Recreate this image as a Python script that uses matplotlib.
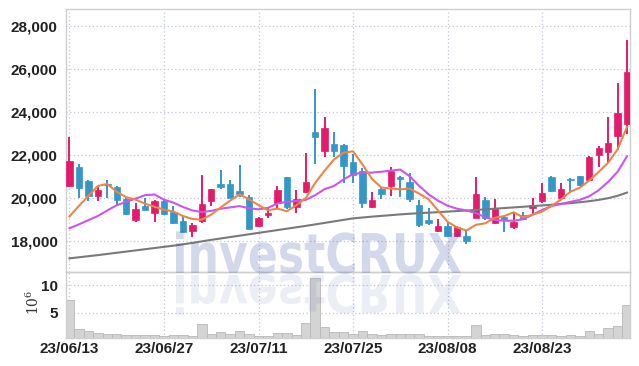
import numpy as np
import pandas as pd
import matplotlib
matplotlib.use('Agg')
import matplotlib.pyplot as plt
import matplotlib.transforms as mtransforms
from matplotlib.textpath import TextPath
from matplotlib.patches import PathPatch
from matplotlib.font_manager import FontProperties

# ---------------- data ----------------
dates = pd.bdate_range('2023-06-13', '2023-09-05')
dates = dates[dates != pd.Timestamp('2023-08-15')]  # KR holiday
label_dates = ['2023-06-13', '2023-06-27', '2023-07-11', '2023-07-25', '2023-08-08', '2023-08-23']

opens = [20535, 21405, 20780, 20080, 20650, 20500, 19916, 18950, 19600, 19290,
         19850, 19340, 18920, 18460, 18920, 19850, 20630, 20630, 20300, 20040,
         18675, 19170, 19760, 20940, 19570, 20270, 23060, 22180, 22490, 22440,
         21665, 21250, 19570, 20400, 20535, 20970, 20720, 19650, 18950, 18460,
         18675, 18210, 18210, 19060, 19880, 18800, 19110, 18640, 19190, 19500,
         19850, 20970, 19963, 20870, 21000, 20830, 21980, 22130, 22860, 23405]
highs = [22814, 21540, 20800, 20500, 20800, 20530, 20000, 19730, 19960, 19880,
         19900, 19600, 19140, 18800, 21050, 20400, 21280, 20810, 21510, 20100,
         19100, 19500, 20535, 20940, 20350, 22060, 25030, 23730, 23060, 22480,
         22020, 21360, 20270, 20500, 21400, 20990, 21130, 19880, 19500, 18990,
         18875, 18660, 18490, 20970, 20040, 19920, 19130, 19340, 19340, 19960,
         20660, 21010, 20690, 20900, 21000, 21930, 22400, 23760, 25310, 27330]
lows = [20490, 19960, 19840, 19840, 20000, 19650, 19200, 18875, 19400, 18875,
        19200, 18780, 18400, 18178, 18830, 19600, 20380, 19990, 20040, 18550,
        18650, 19033, 19500, 19480, 19270, 20200, 21540, 21900, 21900, 20660,
        20660, 19500, 19500, 19920, 20070, 20040, 19800, 18640, 18720, 18410,
        18150, 18150, 17840, 19030, 18950, 18770, 18410, 18520, 18950, 19190,
        19730, 20270, 19920, 20200, 20550, 20810, 21430, 21665, 22210, 22940]
closes = [21700, 20456, 20050, 20350, 20580, 19884, 19219, 19465, 19420, 19850,
          19220, 18800, 18410, 18720, 19700, 20400, 20470, 19990, 20160, 18550,
          19060, 19290, 20350, 19570, 19930, 20720, 22830, 23220, 22180, 21480,
          21047, 19760, 19880, 20160, 21250, 20850, 19920, 18720, 18830, 18675,
          18210, 18614, 17990, 20160, 19030, 19500, 19000, 18875, 18985, 19650,
          20195, 20320, 20380, 20810, 20580, 21884, 22300, 22535, 23916, 25823]
volume = [7.3, 2.0, 1.7, 1.33, 1.15, 1.15, 0.92, 0.92, 0.92, 0.92,
          0.74, 0.92, 0.92, 0.74, 2.96, 1.15, 1.52, 1.15, 1.7, 1.15,
          0.74, 0.74, 1.33, 1.33, 0.92, 3.14, 11.2, 2.42, 1.52, 1.52,
          1.15, 1.7, 1.15, 0.92, 1.15, 1.15, 1.15, 1.15, 0.74, 0.74,
          0.74, 0.74, 0.74, 2.78, 0.92, 1.15, 1.15, 0.92, 0.74, 0.92,
          0.92, 0.92, 0.74, 0.92, 0.74, 1.7, 1.15, 2.24, 2.6, 6.4]  # x 10^6
pre_closes = [18006, 17700, 18050, 20144]  # closes before window (for MA5)
ma20 = [18570, 18750, 18950, 19140, 19400, 19640, 19800, 19950, 20110, 20140,
        19900, 19760, 19560, 19400, 19320, 19380, 19480, 19540, 19600, 19500,
        19450, 19520, 19720, 19800, 19840, 19890, 20110, 20390, 20540, 20840,
        21090, 21150, 21160, 21200, 21250, 21300, 20990, 20540, 20150, 19850,
        19620, 19480, 19400, 19280, 19080, 18960, 18920, 18920, 18990, 19200,
        19420, 19600, 19700, 19800, 19890, 20060, 20340, 20730, 21200, 21920]
ma60 = [17170, 17220, 17270, 17320, 17375, 17430, 17485, 17540, 17595, 17650,
        17705, 17760, 17820, 17890, 17960, 18030, 18095, 18160, 18225, 18290,
        18355, 18420, 18485, 18550, 18615, 18680, 18750, 18820, 18890, 18960,
        19030, 19070, 19110, 19145, 19180, 19215, 19245, 19270, 19295, 19320,
        19345, 19370, 19395, 19420, 19450, 19480, 19510, 19540, 19570, 19600,
        19630, 19665, 19700, 19740, 19780, 19830, 19890, 19970, 20080, 20230]
price_ticks = [18000, 20000, 22000, 24000, 26000, 28000]
vol_ticks = [5, 10]

# ---------------- styling ----------------
UP = '#e31b6a'
DOWN = '#3397c9'
FONT = ['Liberation Sans Narrow', 'Liberation Sans', 'DejaVu Sans']
GRID = '#c3c7da'
SPINE = '#cfcfcf'

n = len(closes)
x = np.arange(n)
ma5 = pd.Series(pre_closes + closes).rolling(5).mean().values[len(pre_closes):]

W, H = 639, 366
fig = plt.figure(figsize=(W / 100, H / 100), dpi=100)
L, R = 66, 630
axp = fig.add_axes([L / W, 1 - 272 / H, (R - L) / W, (272 - 9) / H])
axv = fig.add_axes([L / W, 1 - 338 / H, (R - L) / W, (338 - 272) / H], sharex=axp)

for ax in (axp, axv):
    ax.set_facecolor('none')
    for s in ax.spines.values():
        s.set_color(SPINE)
        s.set_linewidth(1.0)
    ax.grid(True, color=GRID, linestyle=(0, (1, 2)), linewidth=0.9)
    ax.set_axisbelow(True)
    ax.tick_params(length=0, colors='#222222')

# candles
o = np.array(opens); c = np.array(closes); hi = np.array(highs); lo = np.array(lows)
cols = [UP if cc >= oo else DOWN for oo, cc in zip(o, c)]
axp.vlines(x, lo, hi, colors=cols, linewidth=1.4, zorder=2)
body_b = np.minimum(o, c)
body_h = np.maximum(np.abs(c - o), 40)
axp.bar(x, body_h, bottom=body_b, width=0.68, color=cols, edgecolor=cols, linewidth=0.5, zorder=3)

axp.plot(x, ma60, color='#7a7a7a', lw=1.5, zorder=4)
axp.plot(x, ma20, color='#cc55ee', lw=1.5, zorder=4)
axp.plot(x, ma5, color='#ef8447', lw=1.5, zorder=4)

axp.set_ylim(16535, 28770)
axp.set_yticks(price_ticks)
axp.set_yticklabels([f'{v:,}' for v in price_ticks], fontfamily=FONT, fontsize=11, fontweight='bold')
axp.tick_params(axis='y', pad=6)
axp.tick_params(axis='x', labelbottom=False)
axp.set_xlim(-0.37, 59.31)

# volume
axv.bar(x, volume, width=1.0, color='#d4d4d4', edgecolor='#b8b8b8', linewidth=0.6, zorder=2)
axv.set_ylim(0.45, 12.35)
axv.set_yticks(vol_ticks)
axv.set_yticklabels([str(v) for v in vol_ticks], fontfamily=FONT, fontsize=11, fontweight='bold')
axv.tick_params(axis='y', pad=6)
tick_pos = [int(np.where(dates == pd.Timestamp(d))[0][0]) for d in label_dates]
axv.set_xticks(tick_pos)
axv.set_xticklabels([pd.Timestamp(d).strftime('%y/%m/%d') for d in label_dates],
                    fontfamily=FONT, fontsize=11, fontweight='bold')
axv.tick_params(axis='x', pad=3)

fig.text(33 / W, 1 - 302 / H, r'$\mathregular{10^6}$', rotation=90, ha='center', va='center',
         fontsize=10, family='DejaVu Serif', color='#333333')

# watermark with reflection
fp = FontProperties(family='DejaVu Sans', weight='bold')
tp = TextPath((0, 0), 'investCRUX', size=1, prop=fp)
ext = tp.get_extents()
sx = 285 / ext.width
sy = 40 / 0.73
x0 = 176 - ext.x0 * sx
base = H - 273
t1 = mtransforms.Affine2D().scale(sx, sy).translate(x0, base)
t2 = mtransforms.Affine2D().scale(sx, -sy * 0.95).translate(x0, base - 2)
p1 = PathPatch(tp, transform=t1, facecolor=(0.2, 0.28, 0.62, 0.21), edgecolor='none', zorder=10)
p2 = PathPatch(tp, transform=t2, facecolor=(0.2, 0.28, 0.62, 0.09), edgecolor='none', zorder=10)
fig.patches.extend([p1, p2])

fig.savefig('out.png', dpi=100)
